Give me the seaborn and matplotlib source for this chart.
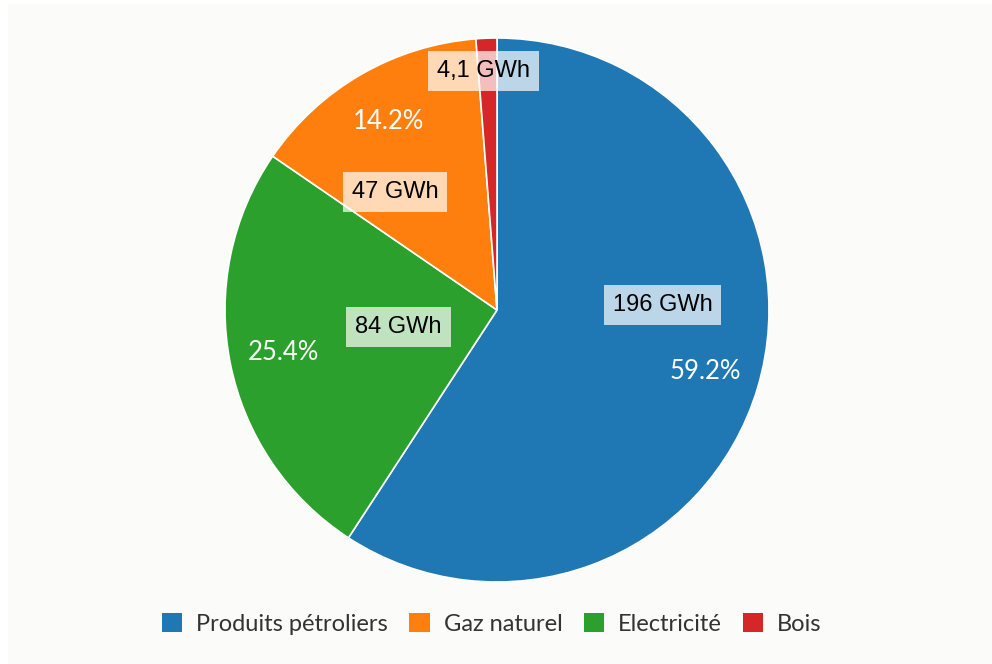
import matplotlib
matplotlib.use("Agg")
import matplotlib.pyplot as plt
from matplotlib.patches import Patch, Rectangle
import seaborn as sns

# Consommation d'énergie par source
categories = ["Produits pétroliers", "Gaz naturel", "Electricité", "Bois"]
energie_gwh = [196, 47, 84, 4.1]
libelles_gwh = ["196 GWh", "47 GWh", "84 GWh", "4,1 GWh"]
ordre_secteurs = [0, 2, 1, 3]  # clockwise from 12 o'clock

sns.set_theme(style="white")
couleurs = sns.color_palette("tab10", 4)

W, H = 992, 664
fig = plt.figure(figsize=(W / 100, H / 100), dpi=100, facecolor="white")
ax = fig.add_axes([0, 0, 1, 1])
ax.set_xlim(0, W)
ax.set_ylim(0, H)
ax.axis("off")

# light panel behind the chart
ax.add_patch(Rectangle((8, 0), W - 8, H - 4, facecolor="#fbfbf9",
                       edgecolor="none", zorder=0))

cx, cy, rayon = 497, H - 310, 272
valeurs = [energie_gwh[i] for i in ordre_secteurs]
cols = [couleurs[i] for i in ordre_secteurs]

wedges, _, pcts = ax.pie(
    valeurs, colors=cols, startangle=90, counterclock=False,
    center=(cx, cy), radius=rayon, frame=True,
    autopct=lambda p: f"{p:.1f}%" if p > 5 else "",
    pctdistance=0.8,
    wedgeprops=dict(edgecolor="white", linewidth=1.2),
    textprops=dict(color="white", fontsize=18.5, family=["Lato", "DejaVu Sans"]),
)
ax.set_xlim(0, W)
ax.set_ylim(0, H)
ax.set_aspect("auto")
ax.axis("off")

# value labels, offsets in units of the radius
decalages = {0: (0.609, 0.020), 2: (-0.362, -0.064),
             1: (-0.375, 0.434), 3: (-0.050, 0.879)}
for i, txt in enumerate(libelles_gwh):
    dx, dy = decalages[i]
    ax.text(cx + dx * rayon, cy + dy * rayon, txt, ha="center", va="center",
            fontsize=17, family=["Liberation Sans", "DejaVu Sans"], color="black",
            bbox=dict(boxstyle="square,pad=0.38", facecolor="white",
                      alpha=0.7, edgecolor="none"), zorder=5)

poignees = [Patch(facecolor=couleurs[i], edgecolor="none", label=c)
            for i, c in enumerate(categories)]
leg = fig.legend(handles=poignees, loc="center", bbox_to_anchor=(0.496, 1 - 624 / H),
                 ncol=4, frameon=False, prop=dict(family="Lato", size=17),
                 handlelength=0.85, handleheight=0.85, handletextpad=0.6,
                 columnspacing=0.9, borderaxespad=0)
for t in leg.get_texts():
    t.set_color("#333333")

fig.savefig("out.png", dpi=100, facecolor="white")
